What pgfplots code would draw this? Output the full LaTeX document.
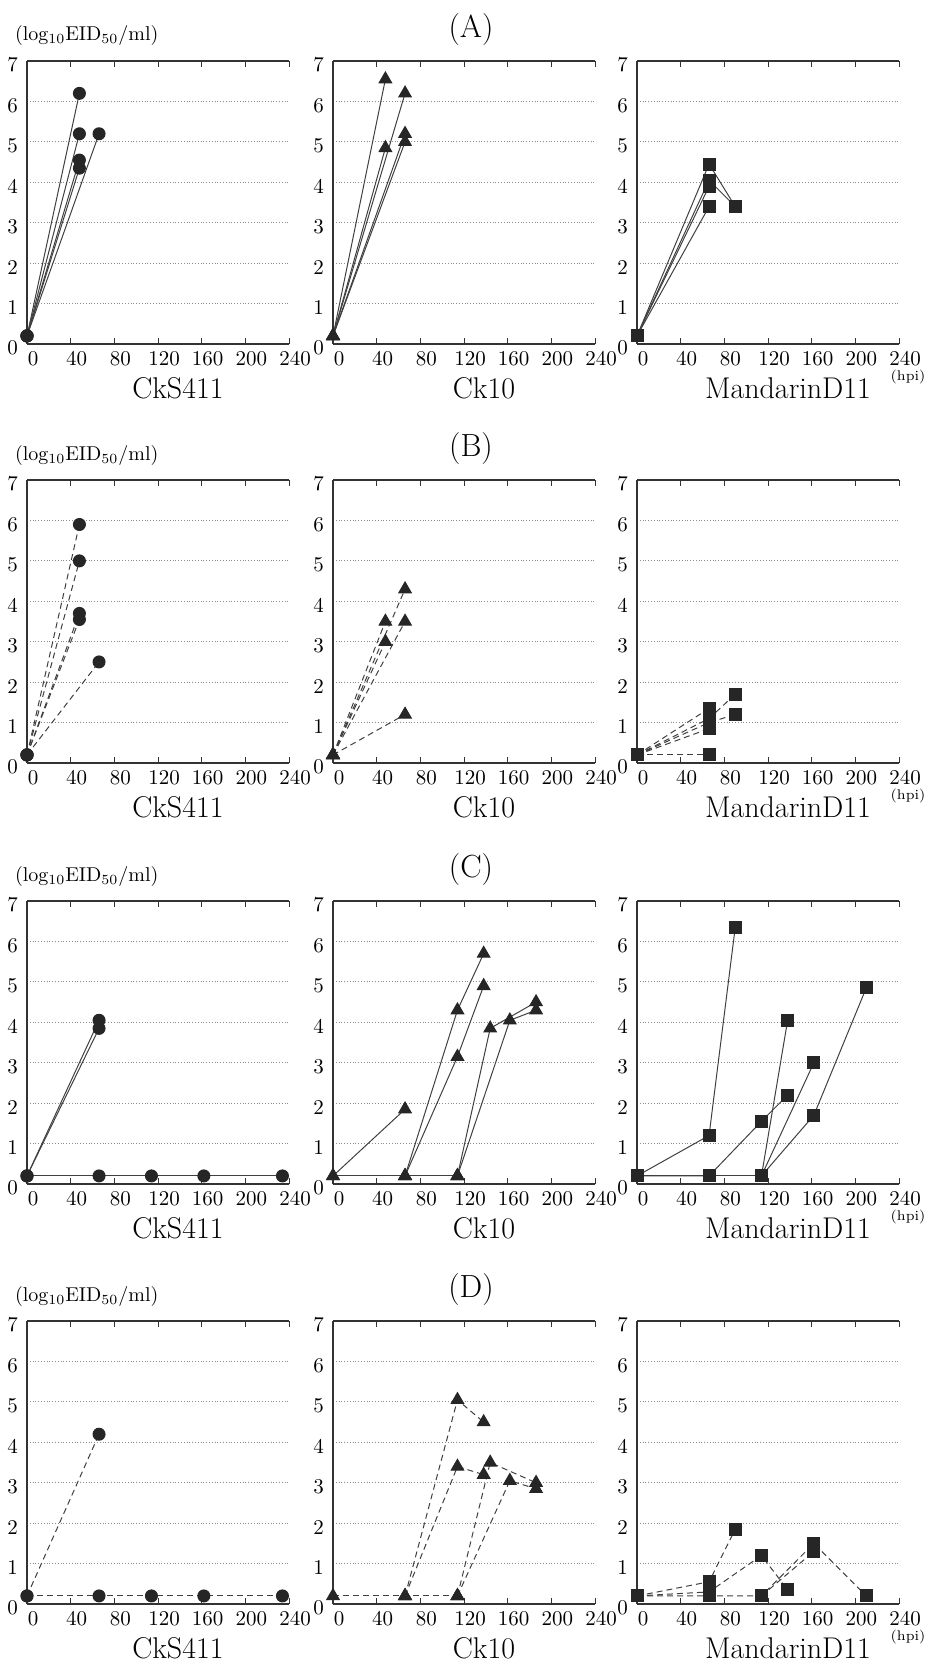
\documentclass[border=0pt]{standalone}
\usepackage{pgfplots}
\pgfplotsset{compat=1.18}

\pgfplotsset{
  panel/.style={scale only axis, width=131pt, height=141.5pt, anchor=south west,
    xmin=0, xmax=240, ymin=0, ymax=7,
    xtick={0,40,...,240}, ytick={0,...,7},
    axis x line*=box, axis y line*=left,
    ymajorgrids, grid style={densely dotted, black!45, line width=0.5pt},
    axis line style={black!80, line width=0.6pt},
    xtick style={black!80, line width=0.5pt}, major tick length=3pt,
    ytick style={draw=none},
    tick label style={font=\fontsize{10.5}{12}\selectfont, /pgf/number format/assume math mode=true},
    xticklabel style={xshift=3pt, yshift=0pt},
    yticklabel style={xshift=-1pt, yshift=-2pt},
    clip=false},
  ln/.style={black!75, line width=0.5pt},
  dl/.style={dash pattern=on 3pt off 2pt},
  cs/.style={ln, mark=*, mark size=3pt, mark options={solid, fill=black!85, draw=black!85}},
  ct/.style={ln, mark=triangle*, mark size=3.6pt, mark options={solid, fill=black!85, draw=black!85}},
  cq/.style={ln, mark=square*, mark size=3pt, mark options={solid, fill=black!85, draw=black!85}},
}
\newcommand{\nm}[1]{{\fontsize{15}{17}\selectfont #1}}
\newcommand{\ylab}{{\fontsize{10}{11}\selectfont (log\textsubscript{10}EID\textsubscript{50}/ml)}}

\begin{document}
\begin{tikzpicture}
\useasboundingbox (0,0) rectangle (471pt,-834pt);

% ---------- (A) ----------
\begin{axis}[panel, at={(13.5pt,-172pt)}]
\addplot[cs] coordinates {(0,0.2) (48,6.2)};
\addplot[cs] coordinates {(0,0.2) (48,5.2)};
\addplot[cs] coordinates {(0,0.2) (48,4.55)};
\addplot[cs] coordinates {(0,0.2) (48,4.35)};
\addplot[cs] coordinates {(0,0.2) (66,5.2)};
\end{axis}
\begin{axis}[panel, at={(166.5pt,-172pt)}]
\addplot[ct] coordinates {(0,0.2) (48,6.55)};
\addplot[ct] coordinates {(0,0.2) (66,6.2)};
\addplot[ct] coordinates {(0,0.2) (48,4.85)};
\addplot[ct] coordinates {(0,0.2) (66,5.2)};
\addplot[ct] coordinates {(0,0.2) (66,5.0)};
\end{axis}
\begin{axis}[panel, at={(318.5pt,-172pt)}]
\addplot[cq] coordinates {(0,0.2) (66,4.45) (90,3.4)};
\addplot[cq] coordinates {(0,0.2) (66,4.05) (90,3.4)};
\addplot[cq] coordinates {(0,0.2) (66,3.9)};
\addplot[cq] coordinates {(0,0.2) (66,3.4)};
\end{axis}

% ---------- (B) ----------
\begin{axis}[panel, at={(13.5pt,-381.5pt)}]
\addplot[cs, dl] coordinates {(0,0.2) (48,5.9)};
\addplot[cs, dl] coordinates {(0,0.2) (48,5.0)};
\addplot[cs, dl] coordinates {(0,0.2) (48,3.7)};
\addplot[cs, dl] coordinates {(0,0.2) (48,3.55)};
\addplot[cs, dl] coordinates {(0,0.2) (66,2.5)};
\end{axis}
\begin{axis}[panel, at={(166.5pt,-381.5pt)}]
\addplot[ct, dl] coordinates {(0,0.2) (48,3.5)};
\addplot[ct, dl] coordinates {(0,0.2) (48,3.0)};
\addplot[ct, dl] coordinates {(0,0.2) (66,4.3)};
\addplot[ct, dl] coordinates {(0,0.2) (66,3.5)};
\addplot[ct, dl] coordinates {(0,0.2) (66,1.2)};
\end{axis}
\begin{axis}[panel, at={(318.5pt,-381.5pt)}]
\addplot[cq, dl] coordinates {(0,0.2) (66,1.35)};
\addplot[cq, dl] coordinates {(0,0.2) (66,1.1) (90,1.7)};
\addplot[cq, dl] coordinates {(0,0.2) (66,1.0) (90,1.2)};
\addplot[cq, dl] coordinates {(0,0.2) (66,0.85)};
\addplot[cq, dl] coordinates {(0,0.2) (66,0.2)};
\end{axis}

% ---------- (C) ----------
\begin{axis}[panel, at={(13.5pt,-592pt)}]
\addplot[cs] coordinates {(0,0.2) (66,4.05)};
\addplot[cs] coordinates {(0,0.2) (66,3.85)};
\addplot[cs] coordinates {(0,0.2) (66,0.2) (114,0.2) (162,0.2) (234,0.2)};
\end{axis}
\begin{axis}[panel, at={(166.5pt,-592pt)}]
\addplot[ct] coordinates {(0,0.2) (66,1.85)};
\addplot[ct] coordinates {(0,0.2) (66,0.2) (114,0.2)};
\addplot[ct] coordinates {(66,0.2) (114,4.3) (138,5.7)};
\addplot[ct] coordinates {(66,0.2) (114,3.15) (138,4.9)};
\addplot[ct] coordinates {(114,0.2) (144,3.85) (186,4.5)};
\addplot[ct] coordinates {(114,0.2) (162,4.05) (186,4.3)};
\end{axis}
\begin{axis}[panel, at={(318.5pt,-592pt)}]
\addplot[cq] coordinates {(0,0.2) (66,1.2) (90,6.35)};
\addplot[cq] coordinates {(0,0.2) (66,0.2) (114,1.55) (138,2.2)};
\addplot[cq] coordinates {(0,0.2) (66,0.2) (114,0.2)};
\addplot[cq] coordinates {(114,0.2) (138,4.05)};
\addplot[cq] coordinates {(114,0.2) (162,3.0)};
\addplot[cq] coordinates {(114,0.2) (162,1.7) (210,4.85)};
\end{axis}

% ---------- (D) ----------
\begin{axis}[panel, at={(13.5pt,-802pt)}]
\addplot[cs, dl] coordinates {(0,0.2) (66,4.2)};
\addplot[cs, dl] coordinates {(0,0.2) (66,0.2) (114,0.2) (162,0.2) (234,0.2)};
\end{axis}
\begin{axis}[panel, at={(166.5pt,-802pt)}]
\addplot[ct, dl] coordinates {(0,0.2) (66,0.2) (114,0.2)};
\addplot[ct, dl] coordinates {(66,0.2) (114,5.05) (138,4.5)};
\addplot[ct, dl] coordinates {(66,0.2) (114,3.4) (138,3.2)};
\addplot[ct, dl] coordinates {(114,0.2) (144,3.5) (186,3.0)};
\addplot[ct, dl] coordinates {(114,0.2) (162,3.05) (186,2.85)};
\end{axis}
\begin{axis}[panel, at={(318.5pt,-802pt)}]
\addplot[cq, dl] coordinates {(0,0.2) (66,0.55) (90,1.85)};
\addplot[cq, dl] coordinates {(0,0.2) (66,0.3) (114,1.2) (138,0.35)};
\addplot[cq, dl] coordinates {(0,0.2) (66,0.2) (114,0.2) (162,1.5) (210,0.2)};
\addplot[cq, dl] coordinates {(114,0.2) (162,1.3)};
\end{axis}

% ---------- labels ----------
\foreach \yb/\t in {-172/A, -381.5/B, -592/C, -802/D}{
  \node at (89pt, \yb pt-22pt) {\nm{CkS411}};
  \node at (242pt, \yb pt-22pt) {\nm{Ck10}};
  \node at (394pt, \yb pt-22pt) {\nm{MandarinD11}};
  \node at (454pt, \yb pt-16.5pt) {{\fontsize{7}{8}\selectfont (hpi)}};
  \node at (235.5pt, \yb pt+157pt) {{\fontsize{16}{18}\selectfont (\t)}};
  \node[anchor=west] at (4pt, \yb pt+154pt) {\ylab};
}
\end{tikzpicture}
\end{document}
